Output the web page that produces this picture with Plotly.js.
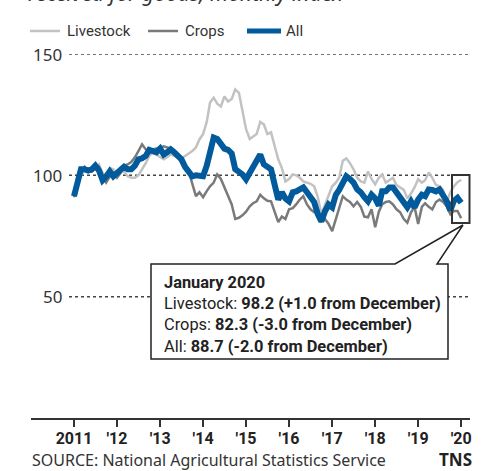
<!DOCTYPE html>
<html>
<head>
<meta charset="utf-8">
<script src="https://cdn.plot.ly/plotly-3.0.1.min.js"></script>
<style>html,body{margin:0;padding:0;background:#fff;}#chart{width:502px;height:471px;}</style>
</head>
<body>
<div id="chart"></div>
<script>
// Monthly index, Jan 2011 .. Jan 2020 (2011 = 100)
const startYear = 2011;
const livestock = [
  92, 97, 100, 102, 103, 102.5, 103, 104.5, 101, 98, 103, 102.5,
  100.5, 102, 101.5, 99.6, 99, 99, 100, 102.5, 105, 108, 109.5, 108.5,
  107.4, 106.6, 107.5, 108.6, 108, 107.5, 107, 108, 109, 110, 111.5, 114.8,
  117, 122, 130, 132, 129.5, 128.4, 132.5, 130.4, 131.5, 135.4, 134, 126,
  119, 115, 116, 117, 122, 121, 117, 117.7, 112, 106.6, 103, 97.5,
  98.5, 100.4, 100, 99, 97.5, 97, 96.5, 95.5, 91, 84, 88, 91.4,
  95.5, 97, 99, 106, 107, 105, 102.5, 99, 97.5, 97, 101.6, 98.5,
  96.3, 99, 100.4, 97, 98, 99, 96, 95, 94, 90.5, 92.5, 95,
  98.4, 97, 98, 101.2, 99, 96, 95.5, 94, 89, 93, 95.5, 97.2,
  98.2
];
const crops = [
  91, 98, 101, 103.5, 102, 101.5, 103, 103.5, 99.5, 97, 99.5, 101,
  99, 101, 104, 104.5, 105.5, 107.4, 110, 112.8, 110.7, 110.5, 110.7, 111,
  111.5, 112, 111.5, 111, 110, 108, 105.3, 103, 101.6, 96, 91.4, 93,
  91, 93.5, 95.5, 97, 100.4, 98.5, 95, 92, 88, 82, 82.5, 83.5,
  85, 87.2, 88.5, 89.3, 92, 90.5, 89.5, 89.3, 85, 80.7, 83, 82,
  86, 86.5, 88, 90, 91.4, 88, 86, 84.8, 84.8, 81, 82, 80,
  77, 82, 86, 91.4, 90, 89, 87.2, 89, 87, 83, 82.7, 86,
  78.6, 85, 88, 89, 89.3, 88, 86, 84.8, 82, 80.5, 84.8, 87,
  80, 87, 88.5, 87, 86, 89, 90, 89, 87.2, 84, 85.3, 85.3,
  82.3
];
const all = [
  91.4, 98.5, 102.5, 102.5, 102, 102.5, 104, 102, 98, 99.5, 101.6, 99.6,
  101, 103, 103.5, 102.5, 102.5, 104, 106.6, 107, 108, 110.5, 110, 109.5,
  111, 108.6, 109.5, 110.7, 109.5, 108, 106.6, 103.5, 101, 99.6, 100, 99.5,
  99.6, 104, 109.5, 115.6, 115, 112.5, 111, 110.5, 109, 102.5, 101.5, 100.4,
  98.4, 101, 103.7, 107, 108.6, 104.5, 103.3, 102.5, 96, 90, 93, 90.5,
  89.3, 93, 93.4, 94, 95, 93, 91.4, 89, 84, 81, 85.2, 88,
  86.8, 92, 94, 96.3, 99.6, 98.5, 97, 94.2, 93, 91, 89.3, 92,
  90.5, 87.5, 93.4, 93.4, 95, 95, 93, 91.4, 89.3, 86.8, 89.3, 86.8,
  90, 92, 91.4, 94.2, 94, 93.4, 94.2, 92, 89.3, 85.5, 89.5, 90.7,
  88.7
];
const seriesNames = ['Livestock', 'Crops', 'All'];
const seriesColors = ['#c2c2c2', '#7a7a7a', '#005a9c'];
const seriesWidths = [2.5, 2.5, 6];
const tickYears = [2011, 2012, 2013, 2014, 2015, 2016, 2017, 2018, 2019, 2020];
const tickLabels = ['2011', "'12", "'13", "'14", "'15", "'16", "'17", "'18", "'19", "'20"];
const yTicks = [50, 100, 150];

function monthDate(i) {
  const y = startYear + Math.floor(i / 12);
  const m = (i % 12) + 1;
  return y + '-' + (m < 10 ? '0' + m : m) + '-01';
}
const months = all.map((_, i) => monthDate(i));

const COND = 'Roboto, "Noto Sans", sans-serif';
const REG = '"Noto Sans", "Open Sans", sans-serif';

const seriesData = [livestock, crops, all];
const traces = seriesData.map((ys, k) => ({
  x: months, y: ys, name: seriesNames[k], type: 'scatter', mode: 'lines',
  line: {color: seriesColors[k], width: seriesWidths[k]}, hoverinfo: 'skip', showlegend: false
}));

const W = 502, H = 471, ML = 31, MR = 32, MT = 54, MB = 53;
const PW = W - ML - MR, PH = H - MT - MB;
const px = v => (v - ML) / PW;          // pixel x -> paper
const py = v => (H - MB - v) / PH;      // pixel y -> paper

function fmt(d) { return (d >= 0 ? '+' : '') + d.toFixed(1); }
const n = all.length - 1;
const lines = [
  '<b>January 2020</b>',
  'Livestock: <b>' + livestock[n].toFixed(1) + ' (' + fmt(livestock[n] - livestock[n-1]) + ' from December)</b>',
  'Crops: <b>' + crops[n].toFixed(1) + ' (' + fmt(crops[n] - crops[n-1]) + ' from December)</b>',
  'All: <b>' + all[n].toFixed(1) + ' (' + fmt(all[n] - all[n-1]) + ' from December)</b>'
];
const lineY = [282, 303, 324, 346];

const shapes = yTicks.map(v => ({
  type: 'line', xref: 'paper', yref: 'y', x0: px(69), x1: px(468), y0: v, y1: v,
  line: {color: '#444', width: 1.5, dash: 'dot'}, layer: 'below'
}));
shapes.push({
  type: 'rect', xref: 'paper', yref: 'paper', x0: px(452), x1: px(469.5), y0: py(223), y1: py(175),
  line: {color: '#333', width: 2}, fillcolor: 'rgba(0,0,0,0)'
});
shapes.push({
  type: 'path', xref: 'paper', yref: 'paper',
  path: 'M' + px(151) + ',' + py(264) + ' L' + px(395) + ',' + py(264) + ' L' + px(463) + ',' + py(225) +
        ' L' + px(437) + ',' + py(264) + ' L' + px(448) + ',' + py(264) + ' L' + px(448) + ',' + py(359) +
        ' L' + px(151) + ',' + py(359) + ' Z',
  line: {color: '#222', width: 1.5}, fillcolor: '#ffffff'
});

// legend (line sample + label for each series)
const legendLineX = [[30, 60], [148, 178], [247, 281]];
const legendTextX = [65, 183, 284];
const legendY = 31;

const annotations = [];
seriesNames.forEach((nm, k) => {
  shapes.push({
    type: 'line', xref: 'paper', yref: 'paper',
    x0: px(legendLineX[k][0]), x1: px(legendLineX[k][1]), y0: py(legendY), y1: py(legendY),
    line: {color: seriesColors[k], width: k === 2 ? 5 : 2.5}
  });
  annotations.push({
    xref: 'paper', yref: 'paper', x: px(legendTextX[k]), y: py(legendY), xanchor: 'left', yanchor: 'middle',
    text: nm, showarrow: false, font: {family: COND, size: 15, color: '#333'}
  });
});
yTicks.forEach(v => annotations.push({
  xref: 'paper', yref: 'y', x: px(64), y: v, xanchor: 'right', yanchor: 'middle',
  text: String(v), showarrow: false, font: {family: REG, size: 17, color: '#333'}
}));
lines.forEach((t, k) => annotations.push({
  xref: 'paper', yref: 'paper', x: px(162), y: py(lineY[k]), xanchor: 'left', yanchor: 'middle',
  text: t, showarrow: false, font: {family: COND, size: 16.4, color: '#222'}
}));
annotations.push({
  xref: 'paper', yref: 'paper', x: px(26), y: py(-7), xanchor: 'left', yanchor: 'middle',
  text: 'received for goods, monthly index', showarrow: false,
  font: {family: REG, size: 21, color: '#333', style: 'italic'}
});
annotations.push({
  xref: 'paper', yref: 'paper', x: px(31), y: py(459.5), xanchor: 'left', yanchor: 'middle',
  text: 'SOURCE: National Agricultural Statistics Service', showarrow: false, borderpad: 0,
  font: {family: REG, size: 16, color: '#333'}
});
annotations.push({
  xref: 'paper', yref: 'paper', x: px(473), y: py(459.5), xanchor: 'right', yanchor: 'middle',
  text: '<b>TNS</b>', showarrow: false, borderpad: 0, font: {family: REG, size: 17, color: '#222'}
});

const layout = {
  width: W, height: H,
  margin: {l: ML, r: MR, t: MT, b: MB, pad: 0},
  paper_bgcolor: '#fff', plot_bgcolor: '#fff',
  showlegend: false,
  xaxis: {type: 'date', range: ['2010-01-01', '2020-03-16'], showgrid: false, zeroline: false,
          showline: true, linecolor: '#333', linewidth: 2,
          ticks: 'outside', ticklen: 7, tickwidth: 1.5, tickcolor: '#333',
          ticklabelstandoff: -2,
          tickvals: tickYears.map(y => y + '-01-01'), ticktext: tickLabels,
          tickfont: {family: COND, size: 16, color: '#222', weight: 'bold'}},
  yaxis: {range: [0, 150], visible: false, showgrid: false, zeroline: false},
  shapes: shapes,
  annotations: annotations
};

Plotly.newPlot('chart', traces, layout, {staticPlot: true, displayModeBar: false});
</script>
</body>
</html>
